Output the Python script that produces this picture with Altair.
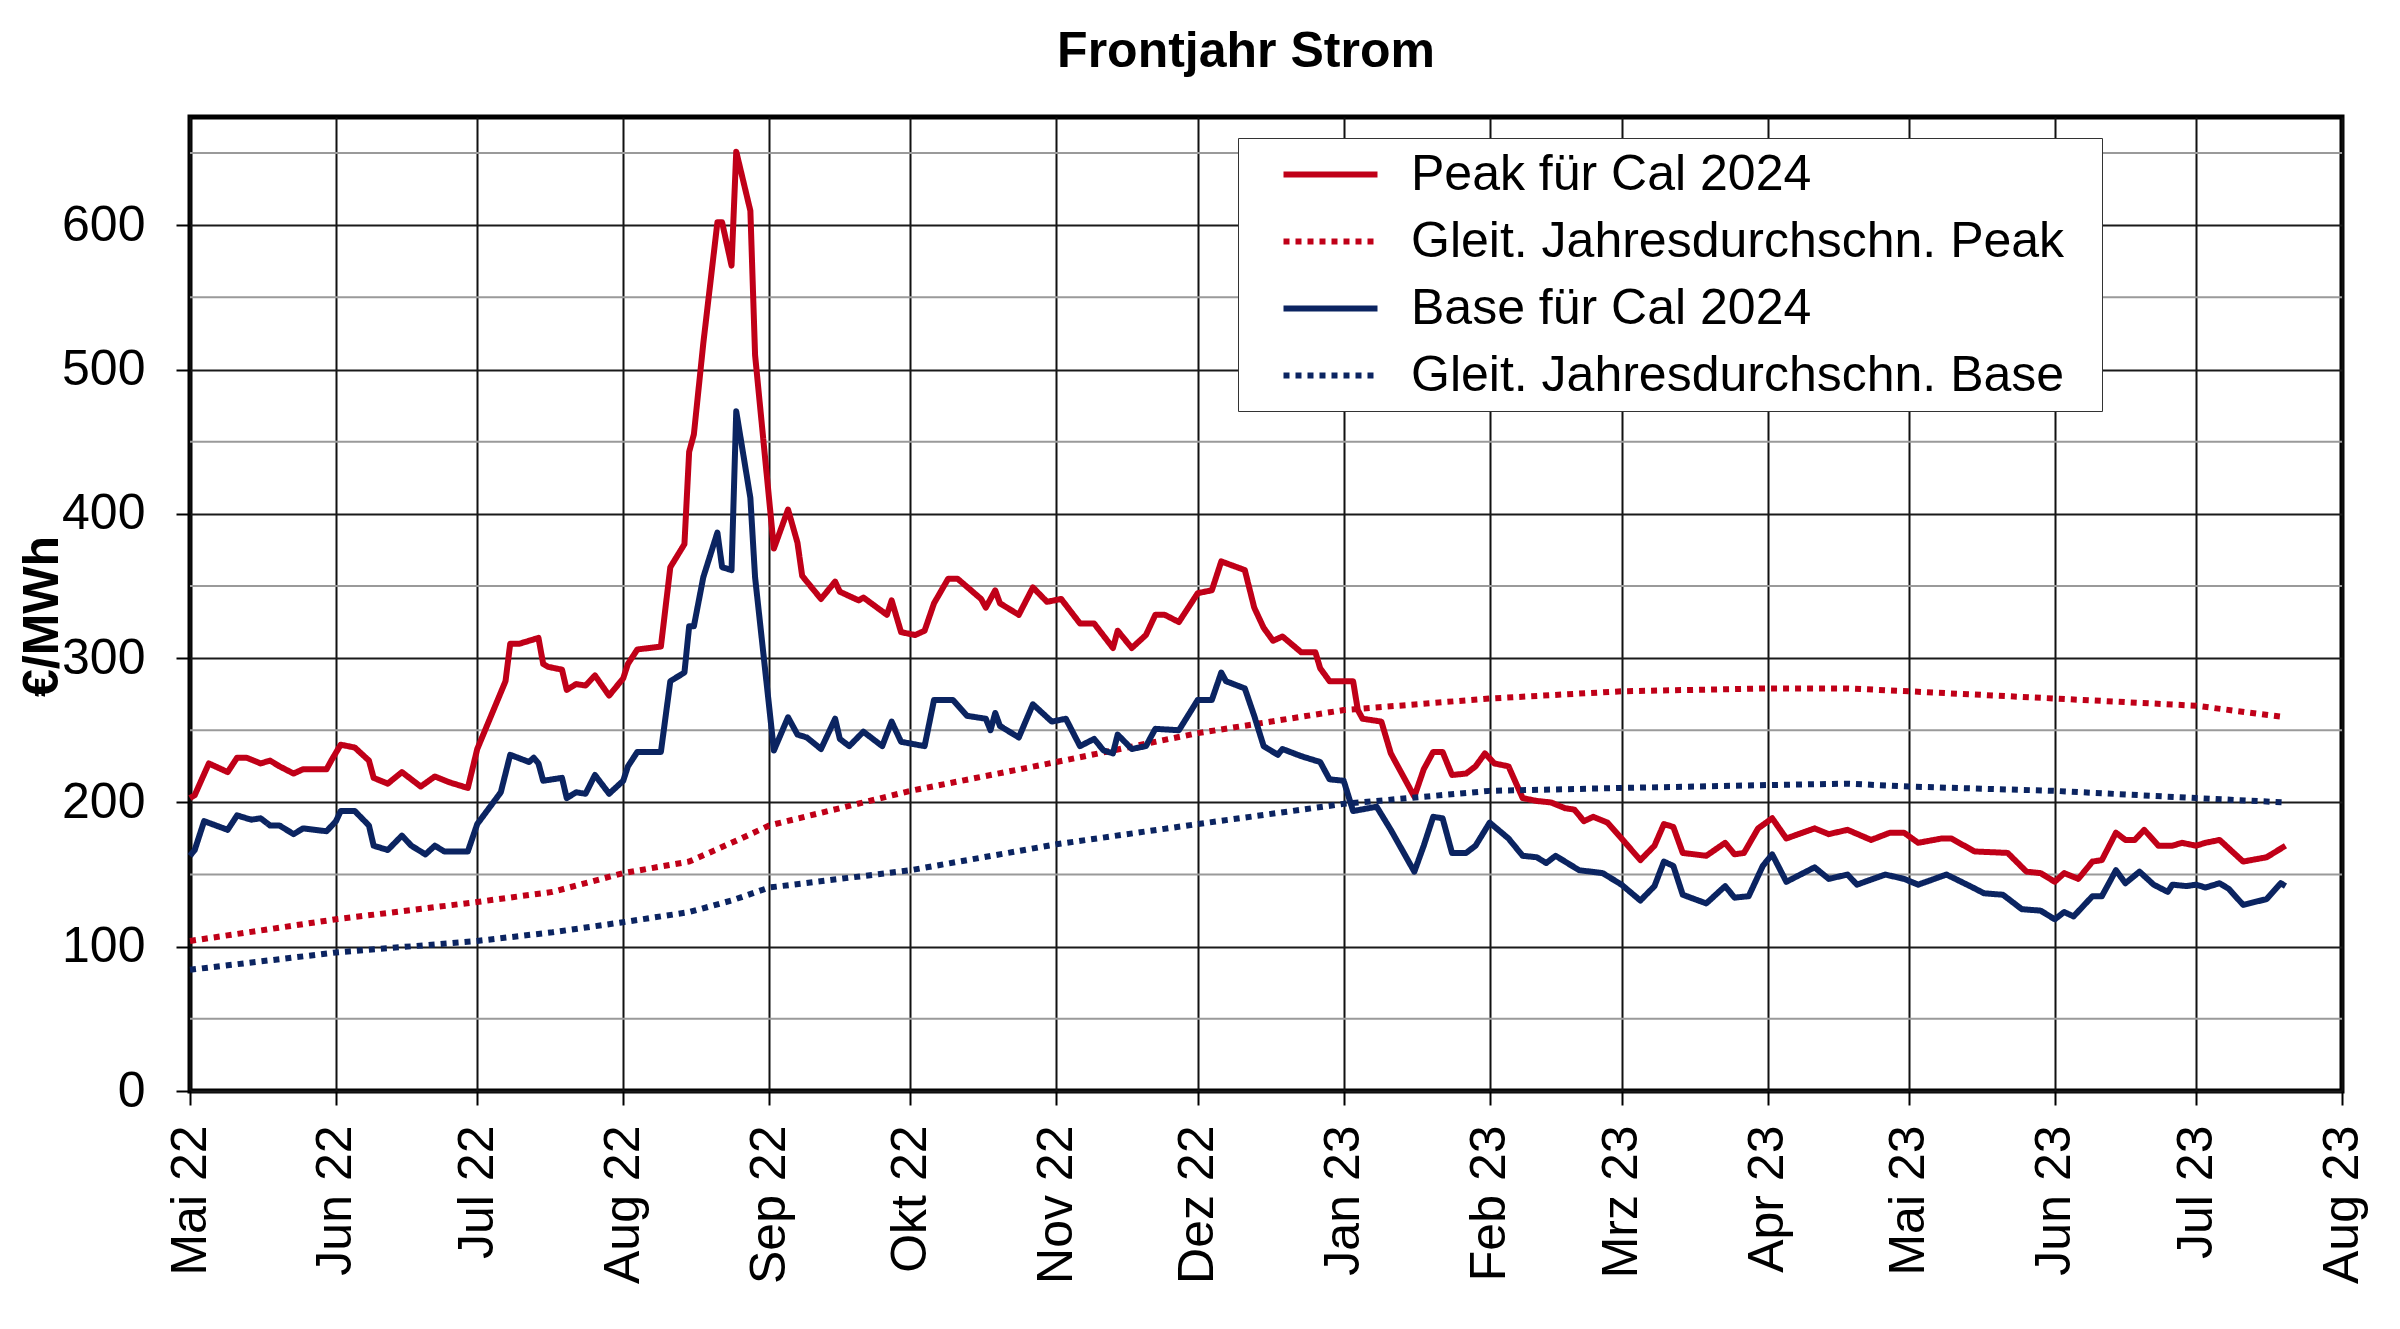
import json
import altair as alt
import pandas as pd

# Frontjahr Strom: Peak/Base for Cal 2024 with rolling annual averages

series_names = [
    "Peak für Cal 2024",
    "Gleit. Jahresdurchschn. Peak",
    "Base für Cal 2024",
    "Gleit. Jahresdurchschn. Base",
]
series_colors = ["#C00018", "#C00018", "#0B2461", "#0B2461"]
series_dashes = [[1, 0], [6, 6], [1, 0], [6, 6]]

month_names = ["Jan", "Feb", "Mrz", "Apr", "Mai", "Jun", "Jul", "Aug",
               "Sep", "Okt", "Nov", "Dez"]
month_ticks = ["2022-05", "2022-06", "2022-07", "2022-08", "2022-09", "2022-10",
               "2022-11", "2022-12", "2023-01", "2023-02", "2023-03", "2023-04",
               "2023-05", "2023-06", "2023-07", "2023-08"]
y_major = [0, 100, 200, 300, 400, 500, 600]
y_minor = [50, 150, 250, 350, 450, 550, 650]

peak_dates = [
    "2022-05-01", "2022-05-02", "2022-05-05", "2022-05-09", "2022-05-11", "2022-05-13",
    "2022-05-16", "2022-05-18", "2022-05-20", "2022-05-23", "2022-05-25", "2022-05-30",
    "2022-05-31", "2022-06-02", "2022-06-05", "2022-06-08", "2022-06-09", "2022-06-12",
    "2022-06-15", "2022-06-19", "2022-06-22", "2022-06-25", "2022-06-29", "2022-07-01",
    "2022-07-07", "2022-07-08", "2022-07-10", "2022-07-14", "2022-07-15", "2022-07-16",
    "2022-07-19", "2022-07-20", "2022-07-22", "2022-07-24", "2022-07-26", "2022-07-29",
    "2022-08-01", "2022-08-02", "2022-08-04", "2022-08-09", "2022-08-11", "2022-08-14",
    "2022-08-15", "2022-08-16", "2022-08-18", "2022-08-21", "2022-08-22", "2022-08-24",
    "2022-08-25", "2022-08-28", "2022-08-29", "2022-09-02", "2022-09-05", "2022-09-07",
    "2022-09-08", "2022-09-12", "2022-09-15", "2022-09-16", "2022-09-20", "2022-09-21",
    "2022-09-26", "2022-09-27", "2022-09-29", "2022-10-02", "2022-10-04", "2022-10-06",
    "2022-10-09", "2022-10-11", "2022-10-16", "2022-10-17", "2022-10-19", "2022-10-20",
    "2022-10-24", "2022-10-27", "2022-10-30", "2022-11-02", "2022-11-06", "2022-11-09",
    "2022-11-13", "2022-11-14", "2022-11-17", "2022-11-20", "2022-11-22", "2022-11-24",
    "2022-11-27", "2022-12-01", "2022-12-04", "2022-12-06", "2022-12-11", "2022-12-13",
    "2022-12-15", "2022-12-17", "2022-12-19", "2022-12-23", "2022-12-26", "2022-12-27",
    "2022-12-29", "2023-01-03", "2023-01-04", "2023-01-05", "2023-01-09", "2023-01-11",
    "2023-01-16", "2023-01-18", "2023-01-20", "2023-01-22", "2023-01-24", "2023-01-27",
    "2023-01-29", "2023-01-31", "2023-02-02", "2023-02-05", "2023-02-08", "2023-02-11",
    "2023-02-14", "2023-02-17", "2023-02-19", "2023-02-21", "2023-02-23", "2023-02-26",
    "2023-03-01", "2023-03-05", "2023-03-08", "2023-03-10", "2023-03-12", "2023-03-14",
    "2023-03-19", "2023-03-23", "2023-03-25", "2023-03-27", "2023-03-30", "2023-04-02",
    "2023-04-05", "2023-04-11", "2023-04-14", "2023-04-18", "2023-04-23", "2023-04-27",
    "2023-04-30", "2023-05-03", "2023-05-08", "2023-05-10", "2023-05-15", "2023-05-22",
    "2023-05-26", "2023-05-29", "2023-06-01", "2023-06-03", "2023-06-06", "2023-06-09",
    "2023-06-11", "2023-06-14", "2023-06-16", "2023-06-18", "2023-06-20", "2023-06-23",
    "2023-06-26", "2023-06-28", "2023-07-01", "2023-07-03", "2023-07-06", "2023-07-09",
    "2023-07-11", "2023-07-16", "2023-07-20",
]
peak_values = [
    203, 205, 227, 221, 231, 231, 227, 229, 225, 220, 223, 223,
    229, 240, 238, 229, 217, 213, 221, 211, 218, 214, 210, 237,
    284, 310, 310, 314, 296, 294, 292, 278, 282, 281, 288, 274,
    286, 296, 306, 308, 363, 379, 443, 455, 518, 602, 602, 572,
    651, 610, 510, 376, 403, 380, 357, 341, 353, 346, 340, 342,
    330, 340, 318, 316, 319, 338, 355, 355, 341, 335, 347, 338,
    330, 349, 339, 341, 324, 324, 307, 319, 307, 316, 330, 330,
    325, 345, 347, 367, 361, 335, 321, 312, 315, 304, 304, 293,
    284, 284, 264, 258, 256, 234, 204, 223, 235, 235, 219, 220,
    225, 234, 227, 225, 203, 201, 200, 196, 195, 187, 190, 186,
    175, 160, 170, 185, 183, 165, 163, 172, 164, 165, 182, 189,
    175, 182, 178, 181, 174, 179, 179, 172, 175, 175, 166, 165,
    152, 151, 145, 151, 147, 159, 160, 179, 174, 174, 181, 170,
    170, 172, 170, 172, 174, 165, 159, 162, 170,
]

base_dates = [
    "2022-05-01", "2022-05-02", "2022-05-04", "2022-05-09", "2022-05-11", "2022-05-14",
    "2022-05-16", "2022-05-18", "2022-05-20", "2022-05-23", "2022-05-25", "2022-05-30",
    "2022-06-01", "2022-06-02", "2022-06-05", "2022-06-08", "2022-06-09", "2022-06-12",
    "2022-06-15", "2022-06-17", "2022-06-20", "2022-06-22", "2022-06-24", "2022-06-29",
    "2022-07-01", "2022-07-06", "2022-07-08", "2022-07-12", "2022-07-13", "2022-07-14",
    "2022-07-15", "2022-07-19", "2022-07-20", "2022-07-22", "2022-07-24", "2022-07-26",
    "2022-07-29", "2022-08-01", "2022-08-02", "2022-08-04", "2022-08-09", "2022-08-11",
    "2022-08-14", "2022-08-15", "2022-08-16", "2022-08-18", "2022-08-21", "2022-08-22",
    "2022-08-24", "2022-08-25", "2022-08-28", "2022-08-29", "2022-09-02", "2022-09-05",
    "2022-09-07", "2022-09-09", "2022-09-12", "2022-09-15", "2022-09-16", "2022-09-18",
    "2022-09-21", "2022-09-25", "2022-09-27", "2022-09-29", "2022-10-04", "2022-10-06",
    "2022-10-10", "2022-10-13", "2022-10-17", "2022-10-18", "2022-10-19", "2022-10-20",
    "2022-10-24", "2022-10-27", "2022-10-31", "2022-11-03", "2022-11-06", "2022-11-09",
    "2022-11-11", "2022-11-13", "2022-11-14", "2022-11-17", "2022-11-20", "2022-11-22",
    "2022-11-27", "2022-12-01", "2022-12-04", "2022-12-06", "2022-12-07", "2022-12-11",
    "2022-12-13", "2022-12-15", "2022-12-18", "2022-12-19", "2022-12-23", "2022-12-27",
    "2022-12-29", "2023-01-01", "2023-01-03", "2023-01-08", "2023-01-11", "2023-01-16",
    "2023-01-18", "2023-01-20", "2023-01-22", "2023-01-24", "2023-01-27", "2023-01-29",
    "2023-02-01", "2023-02-05", "2023-02-08", "2023-02-11", "2023-02-13", "2023-02-15",
    "2023-02-20", "2023-02-25", "2023-03-01", "2023-03-05", "2023-03-08", "2023-03-10",
    "2023-03-12", "2023-03-14", "2023-03-19", "2023-03-23", "2023-03-25", "2023-03-28",
    "2023-03-31", "2023-04-02", "2023-04-05", "2023-04-11", "2023-04-14", "2023-04-18",
    "2023-04-20", "2023-04-26", "2023-04-30", "2023-05-03", "2023-05-09", "2023-05-14",
    "2023-05-17", "2023-05-21", "2023-05-25", "2023-05-29", "2023-06-01", "2023-06-03",
    "2023-06-05", "2023-06-09", "2023-06-11", "2023-06-14", "2023-06-16", "2023-06-19",
    "2023-06-22", "2023-06-25", "2023-06-26", "2023-06-29", "2023-07-01", "2023-07-03",
    "2023-07-06", "2023-07-08", "2023-07-11", "2023-07-16", "2023-07-19", "2023-07-20",
]
base_values = [
    163, 167, 187, 181, 191, 188, 189, 184, 184, 178, 182, 180,
    187, 194, 194, 184, 170, 167, 177, 170, 164, 170, 166, 166,
    185, 207, 233, 228, 231, 227, 215, 217, 203, 207, 206, 219,
    206, 215, 225, 235, 235, 284, 290, 322, 322, 356, 387, 363,
    361, 471, 411, 356, 236, 259, 247, 245, 237, 258, 244, 239,
    249, 239, 256, 242, 239, 271, 271, 260, 258, 250, 262, 253,
    245, 268, 256, 258, 239, 244, 236, 234, 247, 237, 239, 251,
    250, 271, 271, 290, 284, 279, 260, 239, 233, 237, 232, 228,
    216, 215, 194, 197, 181, 152, 170, 190, 189, 165, 165, 170,
    186, 175, 163, 162, 158, 163, 153, 151, 143, 132, 142, 159,
    156, 136, 130, 142, 134, 135, 156, 164, 145, 155, 147, 150,
    143, 150, 147, 143, 150, 142, 137, 136, 126, 125, 119, 124,
    121, 135, 135, 153, 144, 152, 143, 138, 143, 142, 143, 141,
    144, 140, 129, 133, 144, 142,
]

avg_dates = [
    "2022-05-01", "2022-06-01", "2022-07-01", "2022-07-17", "2022-08-01", "2022-08-15",
    "2022-08-24", "2022-09-01", "2022-10-01", "2022-11-01", "2022-12-01", "2023-01-01",
    "2023-02-01", "2023-03-01", "2023-04-01", "2023-04-18", "2023-05-01", "2023-06-01",
    "2023-07-01", "2023-07-20",
]
peak_avg_values = [104, 119, 131, 138, 151, 159, 172, 184, 208, 228, 248, 264,
                   272, 277, 279, 279, 277, 272, 267, 259]
base_avg_values = [84, 96, 104, 110, 117, 124, 132, 141, 153, 171, 185, 199,
                   208, 210, 212, 213, 211, 208, 203, 200]

frames = [
    pd.DataFrame({"date": peak_dates, "value": peak_values, "series": series_names[0]}),
    pd.DataFrame({"date": avg_dates, "value": peak_avg_values, "series": series_names[1]}),
    pd.DataFrame({"date": base_dates, "value": base_values, "series": series_names[2]}),
    pd.DataFrame({"date": avg_dates, "value": base_avg_values, "series": series_names[3]}),
]
df = pd.concat(frames, ignore_index=True)

FONT = "Liberation Sans"
FS = 50


def utc_month(ym):
    y, m = ym.split("-")
    return alt.DateTime(year=int(y), month=int(m), date=1, utc=True)


label_expr = (json.dumps(month_names) + "[utcmonth(datum.value)] + ' ' + "
              "utcFormat(datum.value, '%y')")

# legend box sits inside the plot, top right; the trailing no-break spaces
# (kept from trimming by a zero-width space) give the box its right margin
legend = alt.Legend(
    title=None, orient="none", legendX=1048, legendY=21, direction="vertical",
    fillColor="white", strokeColor="#333333", padding=10,
    rowPadding=15, symbolType="M-2,0H2", symbolSize=2209, symbolStrokeWidth=6,
    symbolOffset=56, labelOffset=54, labelFont=FONT, labelFontSize=FS,
    labelColor="black", labelLimit=2000,
    labelExpr="datum.label + '\u00a0\u00a0\u200b'",
)

y_axis = alt.Axis(
    values=y_major, labelFont=FONT, labelFontSize=FS, labelColor="black",
    labelPadding=31, tickSize=14, tickWidth=2, tickColor="black",
    grid=True, gridColor="#1a1a1a", gridWidth=2, domain=False,
    title="€/MWh", titleFont=FONT, titleFontSize=FS, titleFontWeight="bold",
    titleColor="black", titleX=-148, titleY=499, titleAlign="center",
    titleBaseline="middle", titleAngle=270,
)
y_scale = alt.Scale(domain=[0, 675], nice=False, zero=True)

minor_grid = (
    alt.Chart(pd.DataFrame({"g": y_minor}))
    .mark_rule(color="#9a9a9a", strokeWidth=2)
    .encode(y=alt.Y("g:Q", scale=y_scale, axis=y_axis))
)

lines = (
    alt.Chart(df)
    .mark_line(strokeWidth=6, strokeCap="butt", strokeJoin="round")
    .encode(
        x=alt.X(
            "date:T",
            scale=alt.Scale(type="utc", domain=[utc_month(month_ticks[0]), utc_month(month_ticks[-1])]),
            axis=alt.Axis(
                values=[utc_month(m) for m in month_ticks], labelExpr=label_expr,
                labelAngle=-90, labelFont=FONT, labelFontSize=FS, labelColor="black",
                labelPadding=20, labelFlush=False, labelOverlap=False,
                tickSize=14, tickWidth=2, tickColor="black",
                grid=True, gridColor="#111111", gridWidth=2, domain=False, title=None,
            ),
        ),
        y=alt.Y("value:Q", scale=y_scale, axis=y_axis),
        color=alt.Color("series:N", scale=alt.Scale(domain=series_names, range=series_colors),
                        legend=legend),
        strokeDash=alt.StrokeDash("series:N", scale=alt.Scale(domain=series_names, range=series_dashes),
                                  legend=legend),
    )
)

chart = (
    alt.layer(minor_grid, lines)
    .properties(
        width=2152, height=974,
        padding={"left": 182, "top": 109, "right": 50, "bottom": 230},
        autosize=alt.AutoSizeParams(type="none"),
        title=alt.TitleParams(
            "Frontjahr Strom", font=FONT, fontSize=FS, fontWeight="bold", color="black",
            anchor="middle", offset=40, dx=-20,
        ),
    )
    .configure_view(stroke="black", strokeWidth=5)
)

chart.save("out.html", embed_options={"renderer": "svg", "actions": False})
